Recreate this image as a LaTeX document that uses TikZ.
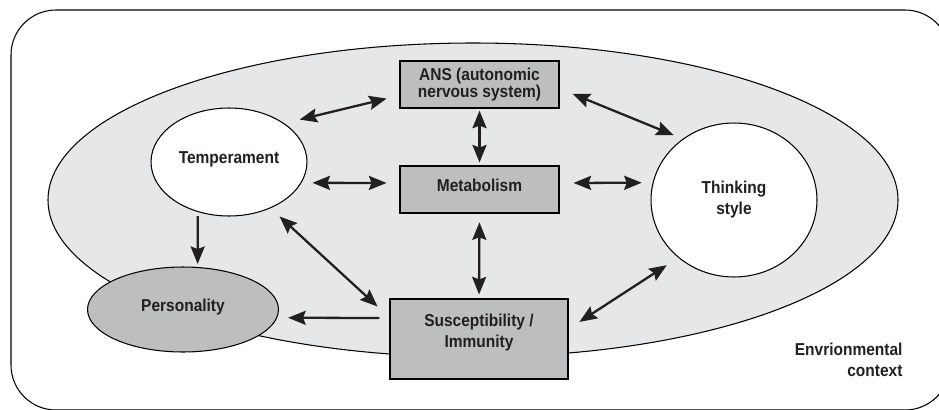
\documentclass[tikz,border=0pt]{standalone}
\usepackage{fontspec}
\setmainfont{Liberation Sans}[FakeStretch=0.9]
\usepackage{tikz}
\usetikzlibrary{arrows.meta,calc,positioning,shapes.geometric}
\definecolor{envgray}{HTML}{E6E7E8}
\definecolor{boxgray}{HTML}{BCBEC0}
\definecolor{ink}{HTML}{231F20}

\begin{document}
\begin{tikzpicture}[x=0.02cm, y=-0.02cm, line width=0.6pt,
  font=\bfseries\fontsize{9.8}{12}\selectfont, text=ink,
  box/.style={draw, fill=boxgray, inner sep=0pt, align=center, minimum width=3.18cm, minimum height=0.94cm},
  oval/.style={draw, ellipse, fill=white, inner sep=0pt, align=center},
  lift/.style={text depth=#1},
  dbl/.style={{Stealth[length=10pt,width=8pt,inset=1.5pt]}-{Stealth[length=10pt,width=8pt,inset=1.5pt]}, line width=1.3pt, draw=ink},
  one/.style={-{Stealth[length=10pt,width=8pt,inset=1.5pt]}, line width=1.3pt, draw=ink}]
\useasboundingbox (0,0) rectangle (939,409);
\clip (0,0) rectangle (939,409);
% --- frame and environment ---
\draw[rounded corners=0.9cm] (11,10) rectangle (950,410);
\draw[fill=envgray] (473,200) ellipse [x radius=425, y radius=157];
\node[align=right, anchor=east, inner sep=0pt] (env) at (903,360) {Envrionmental\\context};
% --- factors ---
\node[oval, lift=5pt, minimum width=3.12cm, minimum height=2.16cm] (temp) at (229,162) {Temperament};
\node[box, font=\bfseries\fontsize{9.8}{8.8}\selectfont] (ans) at (479.5,84.5) {ANS (autonomic\\nervous system)};
\node[box, lift=5pt] (met) at (479.5,189.5) {Metabolism};
\node[oval, minimum width=3.32cm, minimum height=3.08cm] (think) at (734,200) {Thinking\\style};
\node[oval, lift=5pt, fill=boxgray, minimum width=3.82cm, minimum height=1.7cm] (pers) at (183,309.5) {Personality};
\node[box, lift=9pt, minimum width=3.56cm, minimum height=1.6cm] (susc) at (479,339) {Susceptibility /\\Immunity};
% --- links ---
\draw[dbl, shorten <=9pt, shorten >=7.5pt] (temp.35) -- ($(ans.west)+(0,11)$);
\draw[dbl, shorten <=6.2pt, shorten >=7.4pt] (temp.-16) -- ($(met.west)+(0,-6.5)$);
\draw[dbl, shorten <=1.2pt, shorten >=1.7pt] (ans.south) -- (met.north);
\draw[dbl, shorten <=8pt, shorten >=5.5pt] ($(ans.east)+(0,4)$) -- (think.130);
\draw[dbl, shorten <=8pt, shorten >=6.2pt] ($(met.east)+(0,-6.5)$) -- (think.168);
\draw[dbl, shorten <=5pt, shorten >=2.3pt] (met.south) -- (susc.north);
\draw[dbl, shorten <=6.9pt, shorten >=9.2pt] (temp.-48) -- ($(susc.north west)+(0,19)$);
\draw[one, shorten <=5.7pt, shorten >=6.2pt] ($(susc.west)+(0,-21)$) -- (pers.-5);
\draw[one, shorten <=2.3pt, shorten >=1.7pt] (temp.-122) -- (pers.71);
\draw[dbl, shorten <=7.4pt, shorten >=7.8pt] ($(susc.east)+(0,-10)$) -- (think.226);
\end{tikzpicture}
\end{document}
